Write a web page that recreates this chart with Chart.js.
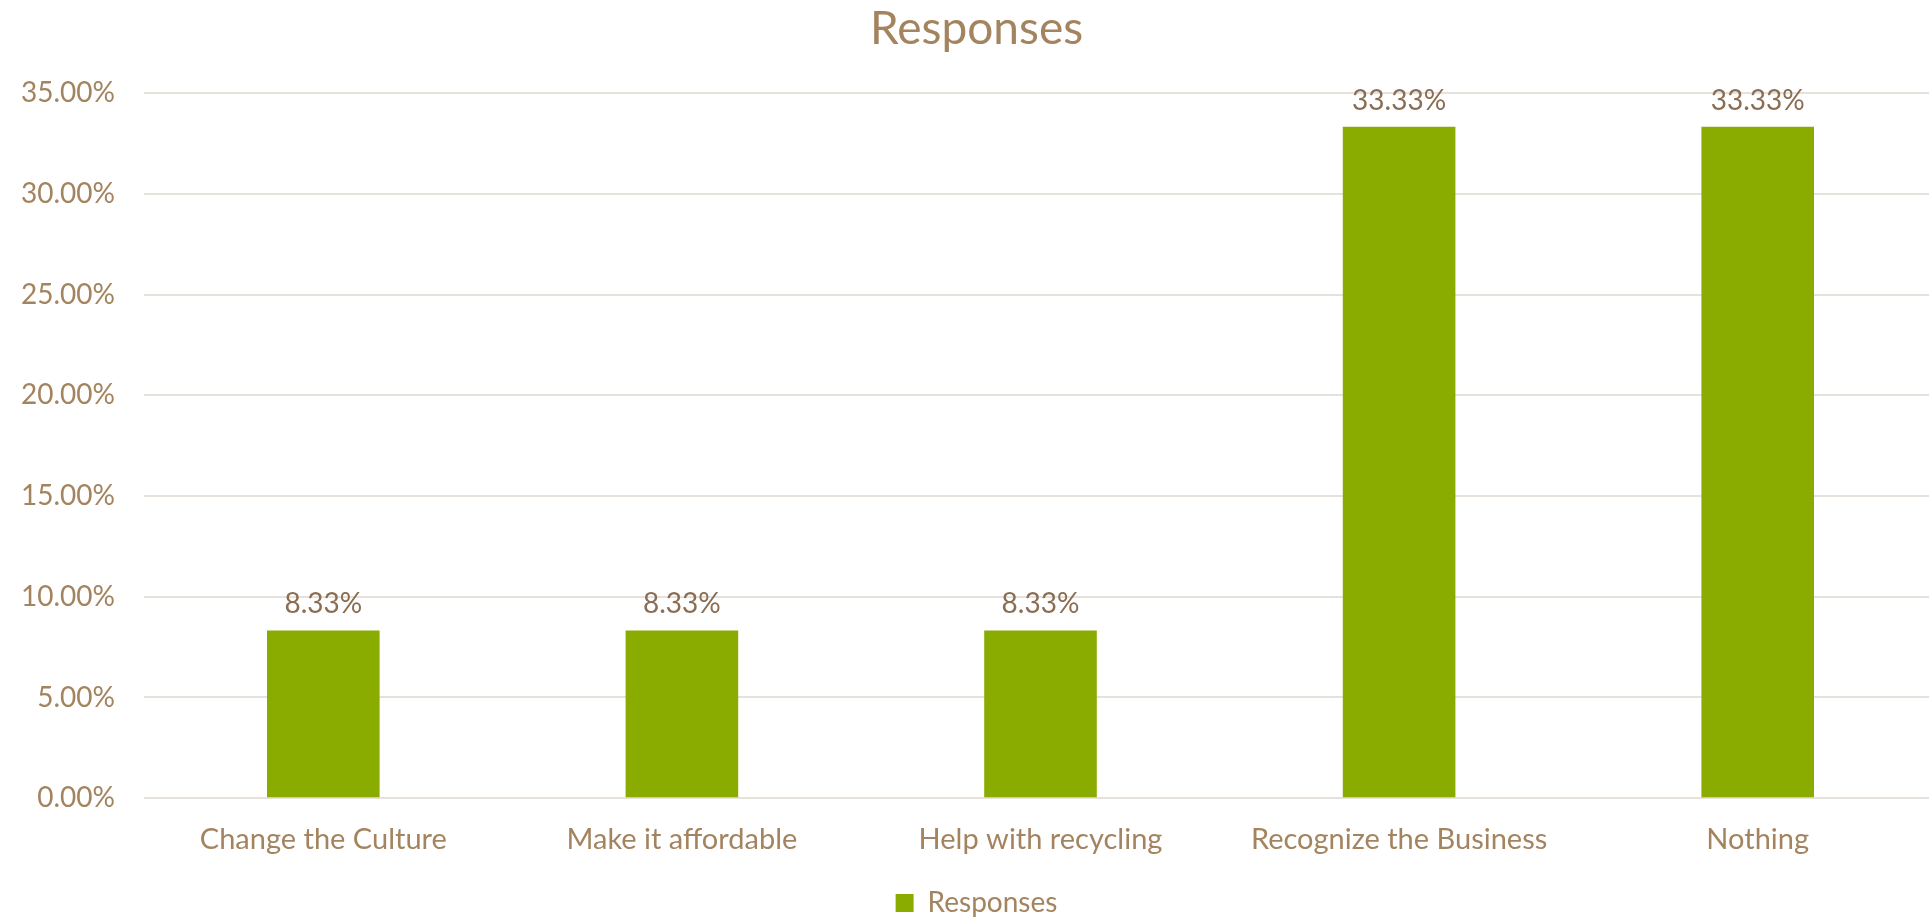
<!DOCTYPE html>
<html>
<head>
<meta charset="utf-8">
<script src="https://cdn.jsdelivr.net/npm/chart.js@4.4.0/dist/chart.umd.min.js"></script>
<style>
  html, body { margin: 0; padding: 0; background: #fff; overflow: hidden; }
  #wrap { width: 1972px; height: 920px; }
</style>
</head>
<body>
<div id="wrap"><canvas id="responsesChart"></canvas></div>
<script>
// Chart data
const categories = ['Change the Culture', 'Make it affordable', 'Help with recycling', 'Recognize the Business', 'Nothing'];
const responses = [8.33, 8.33, 8.33, 33.33, 33.33];
const yTicks = [0, 5, 10, 15, 20, 25, 30, 35];

const textColor = '#a3845f';
const labelColor = '#8a6d52';
const barColor = '#8aab00';
const gridColor = '#e6e1da';

// Value labels above the bars
const barLabels = {
    id: 'barLabels',
    afterDatasetsDraw(chart) {
        const ctx = chart.ctx;
        const meta = chart.getDatasetMeta(0);
        ctx.save();
        ctx.font = '28px Lato';
        ctx.fillStyle = labelColor;
        ctx.textAlign = 'center';
        ctx.textBaseline = 'alphabetic';
        meta.data.forEach((bar, i) => {
            ctx.fillText(responses[i].toFixed(2) + '%', bar.x, bar.y - 17);
        });
        ctx.restore();
    }
};

new Chart(document.getElementById('responsesChart').getContext('2d'), {
    type: 'bar',
    data: {
        labels: categories,
        datasets: [{
            label: 'Responses',
            data: responses,
            backgroundColor: barColor,
            barPercentage: 0.314,
            categoryPercentage: 1
        }]
    },
    options: {
        responsive: true,
        maintainAspectRatio: false,
        animation: false,
        layout: { padding: { left: 16, right: 35, top: 0, bottom: -7 } },
        plugins: {
            title: {
                display: true,
                text: 'Responses',
                color: textColor,
                font: { family: 'Lato', size: 46, weight: 'normal' },
                padding: { top: 2, bottom: 36 }
            },
            legend: {
                position: 'bottom',
                labels: {
                    color: textColor,
                    font: { family: 'Lato', size: 28 },
                    boxWidth: 18,
                    boxHeight: 18,
                    padding: 0
                }
            },
            tooltip: { enabled: false }
        },
        scales: {
            x: {
                grid: { display: false },
                border: { display: false },
                afterFit(axis) {
                    axis.height += 16;
                },
                ticks: {
                    color: textColor,
                    font: { family: 'Lato', size: 29 },
                    padding: 16,
                    maxRotation: 0
                }
            },
            y: {
                min: 0,
                max: 35,
                afterBuildTicks(axis) {
                    axis.ticks = yTicks.map(v => ({ value: v }));
                },
                afterFit(axis) {
                    axis.width = 128;
                },
                grid: { color: gridColor, lineWidth: 2, drawTicks: false },
                border: { display: false },
                ticks: {
                    color: textColor,
                    font: { family: 'Lato', size: 28 },
                    padding: 29,
                    callback: v => v.toFixed(2) + '%'
                }
            }
        }
    },
    plugins: [barLabels]
});
</script>
</body>
</html>
